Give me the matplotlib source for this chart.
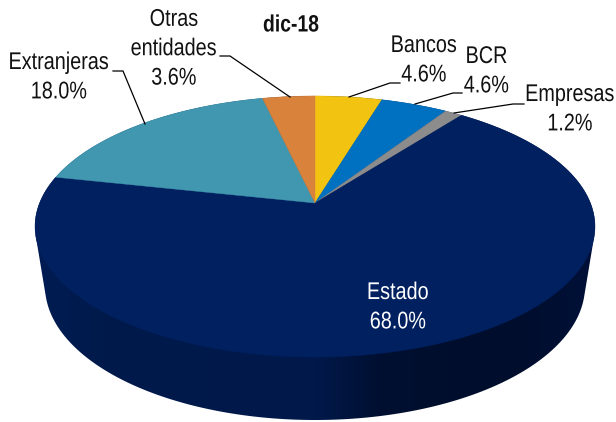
import numpy as np
import matplotlib
matplotlib.use("Agg")
import matplotlib.pyplot as plt
from matplotlib.patches import Polygon
from matplotlib.colors import LinearSegmentedColormap
from matplotlib.patheffects import AbstractPathEffect
from matplotlib.transforms import Affine2D

# Data (clockwise from 12 o'clock)
categories = ["Bancos", "BCR", "Empresas", "Estado", "Extranjeras", "Otras\nentidades"]
values = [4.6, 4.6, 1.2, 68.0, 18.0, 3.6]
colors = ["#F2C311", "#0070C0", "#8C8C8C", "#002060", "#4197B0", "#D9823B"]
title = "dic-18"

plt.rcParams["font.family"] = ["Liberation Sans", "DejaVu Sans"]

W, H = 616, 422
fig = plt.figure(figsize=(W / 100, H / 100), dpi=100)
ax = fig.add_axes([0, 0, 1, 1])
ax.set_xlim(0, W)
ax.set_ylim(H, 0)
ax.axis("off")

NARROW = 0.82


class Tall(AbstractPathEffect):
    """Stretches real text vertically about its centre, giving a narrow face."""
    def __init__(self, y_top, sy=1 / NARROW):
        super().__init__()
        self.y0, self.sy = H - y_top, sy

    def draw_path(self, renderer, gc, tpath, affine, rgbFace=None):
        aff = affine + Affine2D().translate(0, -self.y0).scale(1, self.sy).translate(0, self.y0)
        renderer.draw_path(gc, tpath, aff, rgbFace)


# Perspective pie geometry (pixels)
CX, CY, A, B, K = 315.0, 203.0, 275.4, 126.3, 0.18


def project(theta):
    """theta measured clockwise from 12 o'clock, degrees."""
    t = np.radians(theta)
    u, v = np.sin(t), np.cos(t)
    w = 1 + K * v
    return CX + A * u / w, CY - B * v / w


def hull(pts):
    pts = sorted(map(tuple, pts))
    def half(seq):
        out = []
        for p in seq:
            while len(out) > 1 and (out[-1][0] - out[-2][0]) * (p[1] - out[-2][1]) - (out[-1][1] - out[-2][1]) * (p[0] - out[-2][0]) <= 0:
                out.pop()
            out.append(p)
        return out[:-1]
    return half(pts) + half(pts[::-1])


tt = np.linspace(0, 360, 361)
tx, ty = project(tt)
rad = np.radians(tt)
bx = CX + 270 * np.sin(rad)
by = 286 + 134 * np.cos(rad)
poly = hull(np.column_stack([np.r_[tx, bx], np.r_[ty, by]]))

side_cmap = LinearSegmentedColormap.from_list(
    "side",
    [(0.0, "#001C52"), (0.12, "#001A4C"), (0.5, "#00194A"), (0.62, "#000F30"), (0.85, "#000D2C"), (1.0, "#001038")],
)
grad = np.linspace(0, 1, 512).reshape(1, -1)
im = ax.imshow(grad, extent=(35, 596, 425, 90), cmap=side_cmap, aspect="auto", zorder=1)
clip = Polygon(poly, closed=True, transform=ax.transData, facecolor="none", edgecolor="none")
ax.add_patch(clip)
im.set_clip_path(clip)
ax.set_xlim(0, W)
ax.set_ylim(H, 0)

# Top face
edges = np.r_[0, np.cumsum(values)] / np.sum(values) * 360
for a0, a1, col in zip(edges[:-1], edges[1:], colors):
    th = np.linspace(a0, a1, max(int(a1 - a0) * 2, 8))
    x, y = project(th)
    ax.add_patch(Polygon(np.column_stack([np.r_[CX, x], np.r_[CY, y]]), closed=True,
                         facecolor=col, edgecolor=col, linewidth=0.3, zorder=2))

# Labels
fs = 17.4 * NARROW
tc = "#111111"
label_pos = [(424, 60), (486.5, 71), (570, 109), (398, 307), (59, 77), (174, 48.5)]
for i, (name, (lx, ly)) in enumerate(zip(categories, label_pos)):
    col = "white" if name == "Estado" else tc
    t = ax.text(lx, ly, f"{name}\n{values[i]:.1f}%", ha="center", va="center", fontsize=fs,
                color=col, linespacing=1.34, zorder=5)
    t.set_path_effects([Tall(ly)])
t = ax.text(291, 26, title, ha="center", va="center", fontsize=17 * NARROW, fontweight="bold", color=tc, zorder=5)
t.set_path_effects([Tall(26)])

# Leader lines
leaders = [
    [(400, 83), (390, 83), (349, 97)],
    [(462, 93), (453, 93), (415, 104)],
    [(524, 104), (513, 104), (454, 113)],
    [(113, 71), (123, 71), (145, 124)],
    [(220, 56), (230, 56), (290, 97)],
]
for pts in leaders:
    p = np.array(pts)
    ax.plot(p[:, 0], p[:, 1], color="black", lw=0.9, zorder=4, solid_joinstyle="miter")

fig.savefig("out.png", dpi=100)
